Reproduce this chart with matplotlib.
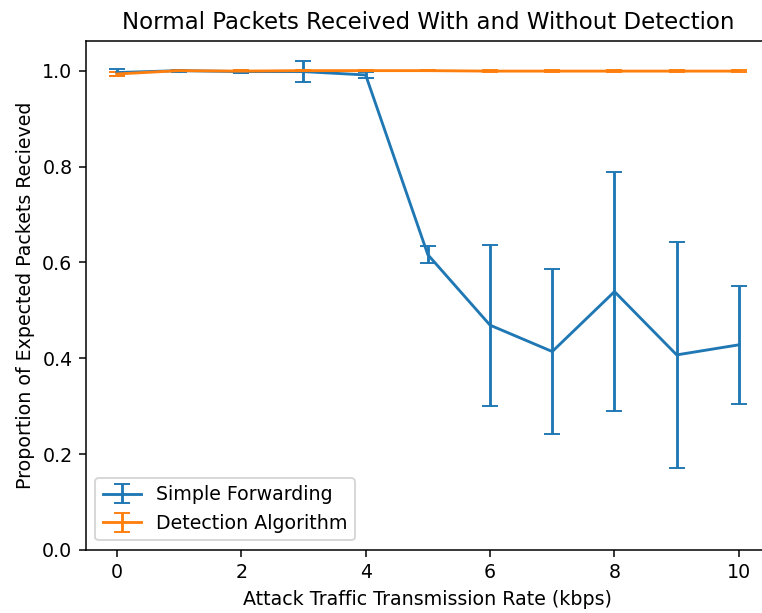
import matplotlib
matplotlib.use("Agg")
import matplotlib.pyplot as plt

# attack traffic rates (kbps)
rates = [0, 1, 2, 3, 4, 5, 6, 7, 8, 9, 10]

# proportion of expected packets received, mean and error
simple_mean = [0.996, 1.0, 0.998, 0.998, 0.991, 0.616, 0.469, 0.414, 0.539, 0.407, 0.428]
simple_err = [0.008, 0.002, 0.003, 0.022, 0.006, 0.018, 0.168, 0.173, 0.250, 0.236, 0.123]

detect_mean = [0.993, 1.0, 0.999, 1.0, 1.0, 1.0, 0.999, 0.999, 0.999, 0.999, 0.999]
detect_err = [0.005, 0.001, 0.002, 0.001, 0.001, 0.001, 0.002, 0.002, 0.002, 0.002, 0.002]

dpi = 137
fig = plt.figure(figsize=(762 / dpi, 613 / dpi), dpi=dpi)
ax = fig.add_axes([0.1125, 0.1028, 0.898, 0.8308])

ax.errorbar(rates, simple_mean, yerr=simple_err, capsize=4, label='Simple Forwarding')
ax.errorbar(rates, detect_mean, yerr=detect_err, capsize=4, label='Detection Algorithm')

ax.set_ylim(bottom=0)
ax.set_xlabel('Attack Traffic Transmission Rate (kbps)')
ax.set_ylabel('Proportion of Expected Packets Recieved')
ax.set_title('Normal Packets Received With and Without Detection')
ax.legend(loc='lower left')

fig.savefig('out.png', dpi=dpi)
